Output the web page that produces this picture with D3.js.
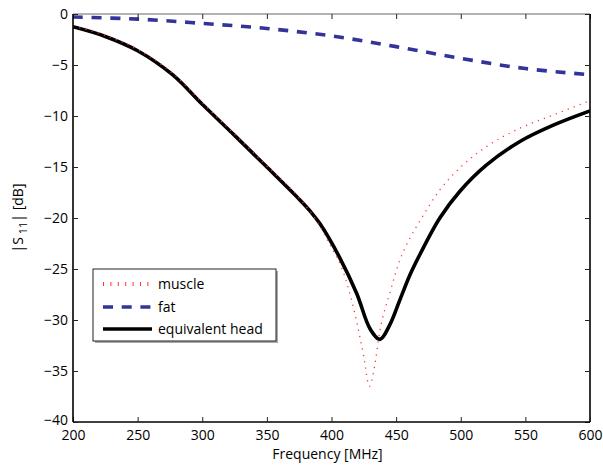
<!DOCTYPE html>
<html><head><meta charset="utf-8">
<script src="https://cdn.jsdelivr.net/npm/d3@7"></script>
<style>
body{margin:0;background:#fff;}
text{font-family:"Open Sans",sans-serif;}
</style></head>
<body><svg id="c" width="603" height="467"></svg>
<script>
const xTicks = [200,250,300,350,400,450,500,550,600];
const yTicks = [0,-5,-10,-15,-20,-25,-30,-35,-40];

const fatFreq = [200,250,300,350,400,450,500,550,600];
const fatS11  = [-0.3,-0.5,-0.92,-1.42,-2.15,-3.2,-4.35,-5.35,-5.95];

const headFreq = [200,225,250,277,300,325,350,375,383,391,406.6,419.5,430,437.5,445,453,461,468.3,483.8,499.2,520,545.8,571.6,600];
const headS11  = [-1.25,-2.2,-3.6,-5.95,-8.85,-11.9,-15.0,-18.15,-19.25,-20.55,-23.95,-27.4,-30.9,-31.9,-30.5,-28.0,-25.5,-23.6,-20.0,-17.4,-14.8,-12.5,-10.9,-9.5];

const muscleFreq = [200,225,250,277,300,325,350,375,391,400,407,417,425,429.3,432.4,437.5,445,453,461,468.3,483.8,499.2,520,545.8,571.6,600];
const muscleS11  = [-1.2,-2.1,-3.5,-5.8,-8.7,-11.8,-14.9,-18.05,-20.8,-22.9,-24.6,-28.8,-33.6,-36.5,-35.2,-31.0,-27.4,-24.1,-21.9,-20.3,-17.25,-15.1,-13.0,-11.2,-9.9,-8.5];

const legendLabels = ["muscle","fat","equivalent head"];

const L=73,R=590,T=14,B=422;
const FS=14;
const svg=d3.select("#c");
const x=d3.scaleLinear().domain([200,600]).range([L,R]);
const y=d3.scaleLinear().domain([-40,0]).range([B,T]);

svg.append("defs").append("clipPath").attr("id","cp").append("rect")
  .attr("x",L).attr("y",T).attr("width",R-L).attr("height",B-T);

const line=d3.line().x(d=>x(d[0])).y(d=>y(d[1])).curve(d3.curveCatmullRom.alpha(0.5));
const lineM=d3.line().x(d=>x(d[0])).y(d=>y(d[1])).curve(d3.curveMonotoneX);
const g=svg.append("g").attr("clip-path","url(#cp)");

g.append("path").datum(fatFreq.map((f,i)=>[f,fatS11[i]])).attr("d",line)
  .attr("fill","none").attr("stroke","#333399").attr("stroke-width",3.6).attr("stroke-dasharray","10,8.7");
g.append("path").datum(headFreq.map((f,i)=>[f,headS11[i]])).attr("d",line)
  .attr("fill","none").attr("stroke","#000").attr("stroke-width",3.6);
g.append("path").datum(muscleFreq.map((f,i)=>[f,muscleS11[i]])).attr("d",lineM)
  .attr("fill","none").attr("stroke","#ff3333").attr("stroke-width",1.3).attr("stroke-dasharray","1.2,5.2");

// axes
const xb=d3.axisBottom(x).tickValues(xTicks).tickSize(-5).tickPadding(8).tickFormat(d3.format("d"));
const xt=d3.axisTop(x).tickValues(xTicks).tickSize(-5).tickFormat("");
const yl=d3.axisLeft(y).tickValues(yTicks).tickSize(-5).tickPadding(6).tickFormat(d=>d===0?"0":"\u2212"+Math.abs(d));
const yr=d3.axisRight(y).tickValues(yTicks).tickSize(-5).tickFormat("");

function style(sel,w,c){
  sel.select(".domain").attr("stroke",c).attr("stroke-width",w);
  sel.selectAll(".tick line").attr("stroke","#222").attr("stroke-width",1);
  sel.selectAll("text").attr("font-size",FS).attr("fill","#000").attr("font-family","'Open Sans',sans-serif");
}
const gxt=svg.append("g").attr("transform",`translate(0,${T})`).call(xt); style(gxt,1,"#666");
gxt.select(".domain").attr("d",`M${L},0H${R}`);
const gyr=svg.append("g").attr("transform",`translate(${R},0)`).call(yr); style(gyr,1.6,"#000");
gyr.select(".domain").attr("d",`M0,${T}V${B}`);
const gxb=svg.append("g").attr("transform",`translate(0,${B})`).call(xb); style(gxb,1.6,"#000");
gxb.select(".domain").attr("d",`M${L},0H${R}`);
const gyl=svg.append("g").attr("transform",`translate(${L},0)`).call(yl); style(gyl,1.6,"#000");
gyl.select(".domain").attr("d",`M0,${T}V${B}`);
gxb.selectAll(".tick text").attr("y",8).attr("dy","0.71em");
gyl.selectAll(".tick text").attr("x",-5);
gyl.selectAll(".tick").filter(d=>d===-40).select("text").attr("dy","0.2em");

// axis labels
svg.append("text").attr("x",(L+R)/2-4).attr("y",459).attr("text-anchor","middle").attr("font-size",FS).text("Frequency [MHz]");
const yt=svg.append("text").attr("transform",`translate(23,${(T+B)/2}) rotate(-90)`).attr("text-anchor","middle").attr("font-size",FS);
yt.append("tspan").text("|S");
yt.append("tspan").attr("dy",4).attr("font-size",11).text(" 11");
yt.append("tspan").attr("dy",-4).text("| [dB]");

// legend
const lg=svg.append("g");
lg.append("rect").attr("x",95).attr("y",271).attr("width",183).attr("height",72).attr("fill","#aaa");
lg.append("rect").attr("x",93).attr("y",269).attr("width",183).attr("height",72).attr("fill","#fff").attr("stroke","#222").attr("stroke-width",1);
const ly=[284,307,329];
const styles=[
  {c:"#ff3333",w:1.3,da:"1.2,6.2"},
  {c:"#333399",w:3.6,da:"10,8.7"},
  {c:"#000",w:3.6,da:null}
];
legendLabels.forEach((lab,i)=>{
  const s=styles[i];
  const ln=lg.append("line").attr("x1",103).attr("x2",152).attr("y1",ly[i]).attr("y2",ly[i])
    .attr("stroke",s.c).attr("stroke-width",s.w);
  if(s.da) ln.attr("stroke-dasharray",s.da);
  if(i===0) ln.attr("stroke-width",4).attr("stroke-dasharray","1,6.4");
  lg.append("text").attr("x",158).attr("y",ly[i]).attr("dy","0.35em").attr("font-size",FS).text(lab);
});
</script></body></html>
